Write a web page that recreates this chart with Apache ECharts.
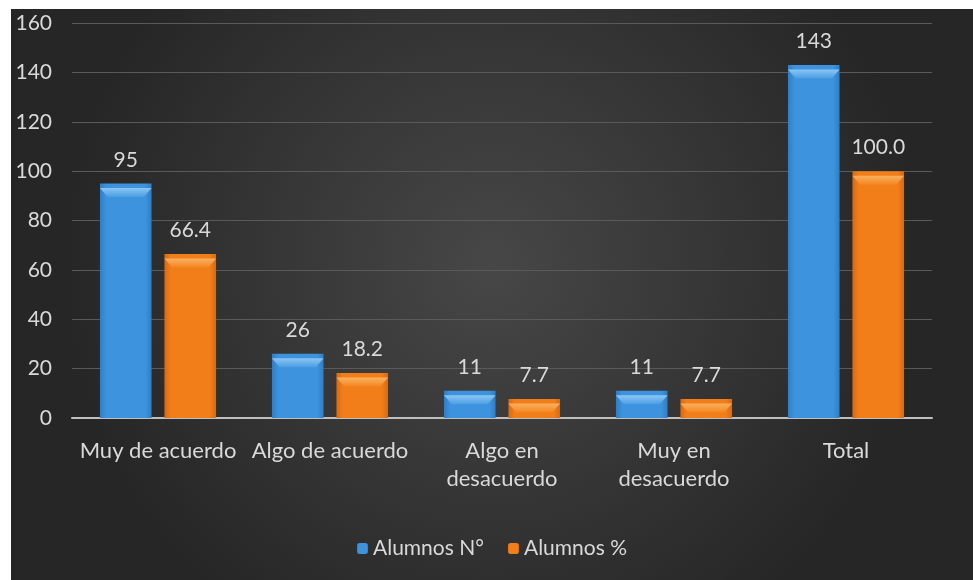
<!DOCTYPE html>
<html>
<head>
<meta charset="utf-8">
<script src="https://cdn.jsdelivr.net/npm/echarts@6/dist/echarts.min.js"></script>
<style>
  html, body { margin: 0; padding: 0; background: #ffffff; }
  #chart { position: absolute; left: 11px; top: 9px; width: 962px; height: 571px; }
</style>
</head>
<body>
<div id="chart"></div>
<script>
// Survey answers: number of students and share of the total
const categories = ['Muy de acuerdo', 'Algo de acuerdo', 'Algo en\ndesacuerdo', 'Muy en\ndesacuerdo', 'Total'];
const alumnosNum = [95, 26, 11, 11, 143];
const alumnosPct = [66.4, 18.2, 7.7, 7.7, 100.0];
const seriesNames = ['Alumnos N°', 'Alumnos %'];

const FONT = 'Lato, "Open Sans", sans-serif';
const TEXT = '#d9d9d9';
const BAR_W = '30%';
const BAR_GAP = '25%';

function barFill(edge, mid) {
  return new echarts.graphic.LinearGradient(0, 0, 1, 0, [
    { offset: 0, color: edge },
    { offset: 0.12, color: mid },
    { offset: 0.88, color: mid },
    { offset: 1, color: edge }
  ]);
}

// bevelled top cap drawn on the end of each bar
function bevelCap(values, light, base) {
  return {
    type: 'pictorialBar',
    data: values,
    barWidth: BAR_W,
    barGap: BAR_GAP,
    symbol: 'path://M0,0 L20,0 L17,2 L3,2 Z',
    symbolKeepAspect: false,
    symbolPosition: 'end',
    symbolSize: ['100%', 9],
    symbolOffset: [0, '50%'],
    silent: true,
    z: 3,
    itemStyle: {
      color: new echarts.graphic.LinearGradient(0, 0, 0, 1, [
        { offset: 0, color: light },
        { offset: 1, color: base }
      ])
    }
  };
}

const chart = echarts.init(document.getElementById('chart'));
chart.setOption({
  backgroundColor: new echarts.graphic.RadialGradient(0.5, 0.45, 0.75, [
    { offset: 0, color: '#474747' },
    { offset: 1, color: '#262626' }
  ]),
  textStyle: { fontFamily: FONT },
  grid: { left: 61, right: 41, top: 14, bottom: 162 },
  legend: {
    bottom: 16,
    left: 'center',
    itemWidth: 11,
    itemHeight: 11,
    itemGap: 24,
    textStyle: { color: TEXT, fontSize: 21, fontFamily: FONT },
    data: seriesNames
  },
  xAxis: {
    type: 'category',
    data: categories,
    axisLine: { lineStyle: { color: '#bfbfbf', width: 2 } },
    axisTick: { show: false },
    axisLabel: { color: TEXT, fontSize: 22, fontFamily: FONT, margin: 19, lineHeight: 28, interval: 0 }
  },
  yAxis: {
    type: 'value',
    min: 0,
    max: 160,
    interval: 20,
    axisLine: { show: false },
    axisTick: { show: false },
    axisLabel: { color: TEXT, fontSize: 21, fontFamily: FONT, margin: 20 },
    splitLine: { lineStyle: { color: '#5a5a5a', width: 1 } }
  },
  series: [
    {
      name: seriesNames[0],
      type: 'bar',
      data: alumnosNum,
      barWidth: BAR_W,
      barGap: BAR_GAP,
      itemStyle: { color: barFill('#2f7dc4', '#3d93dd') },
      label: { show: true, position: 'top', distance: 13, color: TEXT, fontSize: 21, fontFamily: FONT }
    },
    {
      name: seriesNames[1],
      type: 'bar',
      data: alumnosPct,
      barWidth: BAR_W,
      itemStyle: { color: barFill('#d96a10', '#f27e1a') },
      label: {
        show: true, position: 'top', distance: 13, color: TEXT, fontSize: 21, fontFamily: FONT,
        formatter: p => p.value.toFixed(1)
      }
    },
    bevelCap(alumnosNum, '#8cc6f5', '#4a9de3'),
    bevelCap(alumnosPct, '#fbb062', '#f4861f')
  ]
});
</script>
</body>
</html>
